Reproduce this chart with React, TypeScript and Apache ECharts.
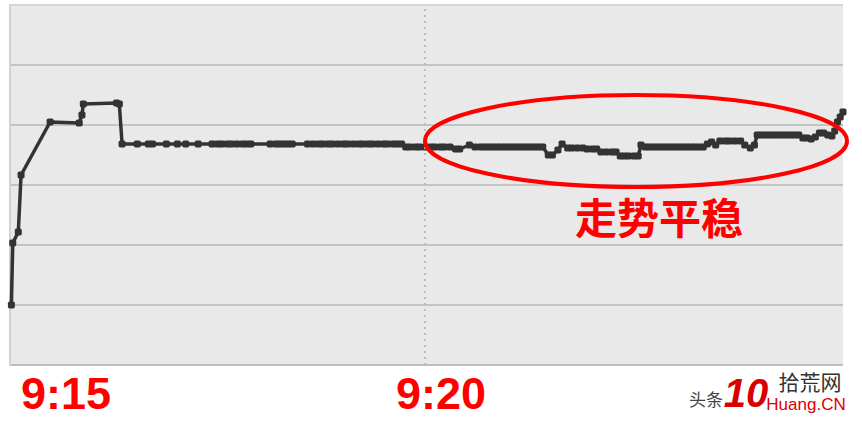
import React, { useEffect, useRef } from "react";
import * as echarts from "echarts";

// seconds after 9:15:00
const seconds = [
  1, 2, 6, 8, 29, 50, 52, 53, 77, 79, 81,
  92, 100, 103, 113, 121, 127, 136,
  146, 150, 153, 157, 160, 164, 168, 171, 174,
  188, 192, 195, 198, 201, 204,
  215, 219, 223, 226, 230, 233, 237, 241, 244, 248, 252, 255, 259, 262, 266, 270, 273, 277, 280, 283,
  286, 289, 293, 296, 300, 304, 307, 311, 314, 318,
  322, 325, 332, 336,
  340, 343, 346, 349, 352, 355, 358, 361, 364, 367, 370, 373, 376, 379, 382, 385,
  389, 392, 396, 399, 403, 406, 410, 414, 417, 421, 424, 427, 431, 435, 438, 441, 444, 447, 451, 454, 456,
  459, 462, 465, 468, 471, 474, 477, 480, 483, 486, 489, 492, 495, 498, 501,
  504, 507, 510, 513, 517, 520, 524, 528, 531, 535, 538, 540,
  543, 546, 549, 552, 555, 558, 561, 564, 567, 570,
  573, 576, 579, 582, 585, 588, 591, 594, 596, 598, 600, 602,
];

// price level (arbitrary units)
const levels = [
  60, 122, 133, 190, 243, 242, 250, 261, 262, 261, 221,
  221, 221, 221, 221, 221, 221, 221,
  221, 221, 221, 221, 221, 221, 221, 221, 221,
  221, 221, 221, 221, 221, 221,
  221, 221, 221, 221, 221, 221, 221, 221, 221, 221, 221, 221, 221, 221, 221, 221, 221, 221, 221, 221,
  218, 218, 218, 218, 218, 218, 218, 218, 218, 218,
  216, 216, 220, 218,
  218, 218, 218, 218, 218, 218, 218, 218, 218, 218, 218, 218, 218, 218, 218, 218,
  210, 210, 215, 221, 217, 217, 217, 217, 216, 216, 216, 213, 213, 213, 213, 209, 209, 209, 209, 209, 220,
  218, 218, 218, 218, 218, 218, 218, 218, 218, 218, 218, 218, 218, 218, 218,
  221, 223, 220, 224, 224, 224, 224, 224, 220, 217, 220, 230,
  230, 230, 230, 230, 230, 230, 230, 230, 230, 230,
  227, 227, 226, 228, 232, 232, 230, 229, 234, 243, 248, 253,
];

const timeTickSeconds = [0, 300];
const timeTickLabels = ["9:15", "9:20"];
const annotationText = "走势平稳";

export default function App() {
  const ref = useRef<HTMLDivElement>(null);
  useEffect(() => {
    if (!ref.current) return;
    const chart = echarts.init(ref.current, null, { renderer: "svg" });
    const data = seconds.map((s, i) => [s, levels[i]]);
    const labelFont = {
      fontSize: 45,
      fontWeight: "bold" as const,
      color: "#ff0000",
      fontFamily: "Liberation Sans",
    };
    chart.setOption({
      animation: false,
      backgroundColor: "#ffffff",
      grid: {
        left: 10,
        right: 19,
        top: 5,
        bottom: 57,
        show: true,
        backgroundColor: "#e9e9e9",
        borderWidth: 0,
      },
      xAxis: {
        type: "value",
        min: 0,
        max: 602,
        interval: 300,
        axisLine: { show: false },
        axisTick: { show: false },
        splitLine: { show: false },
        axisLabel: {
          margin: 6,
          showMaxLabel: false,
          formatter: (v: number) => {
            const i = timeTickSeconds.indexOf(v);
            if (i < 0) return "";
            return i === 0 ? `{a|${timeTickLabels[i]}}` : `{b|${timeTickLabels[i]}}`;
          },
          rich: {
            a: { ...labelFont, padding: [0, 0, 0, 112] },
            b: { ...labelFont, padding: [0, 0, 0, 32] },
          },
        },
      },
      yAxis: {
        type: "value",
        min: 0,
        max: 360,
        interval: 60,
        position: "right",
        axisLine: { show: true, lineStyle: { color: "#d2d2d2", width: 2 } },
        axisTick: { show: false },
        axisLabel: { show: false },
        splitLine: {
          lineStyle: {
            color: ["#bfbfbf", "#c4c4c4", "#c4c4c4", "#c4c4c4", "#c4c4c4", "#c4c4c4", "#d6d6d6"],
            width: 2,
          },
        },
      },
      series: [
        {
          type: "line",
          data,
          symbol: "roundRect",
          symbolSize: 7,
          showSymbol: true,
          clip: false,
          itemStyle: { color: "#333333" },
          lineStyle: { color: "#333333", width: 3.5 },
          markLine: {
            silent: true,
            symbol: "none",
            label: { show: false },
            lineStyle: { type: [2, 4], color: "#bdbdbd", width: 2 },
            data: [{ xAxis: 300 }],
          },
        },
      ],
      graphic: [
        {
          type: "ellipse",
          shape: { cx: 636, cy: 141, rx: 211, ry: 46 },
          style: { fill: "none", stroke: "#ff0000", lineWidth: 4 },
          z: 100,
        },
        {
          type: "text",
          x: 659,
          y: 215,
          style: {
            text: annotationText,
            fill: "#ff0000",
            font: "bold 42px 'Noto Sans CJK SC'",
            align: "center",
            verticalAlign: "middle",
          },
          z: 100,
        },
        {
          type: "text",
          x: 689,
          y: 398,
          style: {
            text: "头条",
            fill: "#444444",
            font: "17px 'Noto Sans CJK SC'",
            align: "left",
            verticalAlign: "middle",
          },
          z: 100,
        },
        {
          type: "text",
          x: 746,
          y: 393,
          style: {
            text: "10",
            fill: "#d80000",
            font: "italic bold 40px 'Liberation Sans'",
            align: "center",
            verticalAlign: "middle",
          },
          z: 101,
        },
        {
          type: "text",
          x: 810,
          y: 381,
          style: {
            text: "拾荒网",
            fill: "#333333",
            font: "21px 'Noto Sans CJK SC'",
            align: "center",
            verticalAlign: "middle",
          },
          z: 100,
        },
        {
          type: "text",
          x: 806,
          y: 404,
          style: {
            text: "Huang.CN",
            fill: "#dd0000",
            font: "17px 'Liberation Sans'",
            align: "center",
            verticalAlign: "middle",
          },
          z: 100,
        },
      ],
    });
    return () => chart.dispose();
  }, []);
  return (
    <div
      ref={ref}
      style={{ position: "fixed", left: 0, top: 0, width: 862, height: 422 }}
    />
  );
}
